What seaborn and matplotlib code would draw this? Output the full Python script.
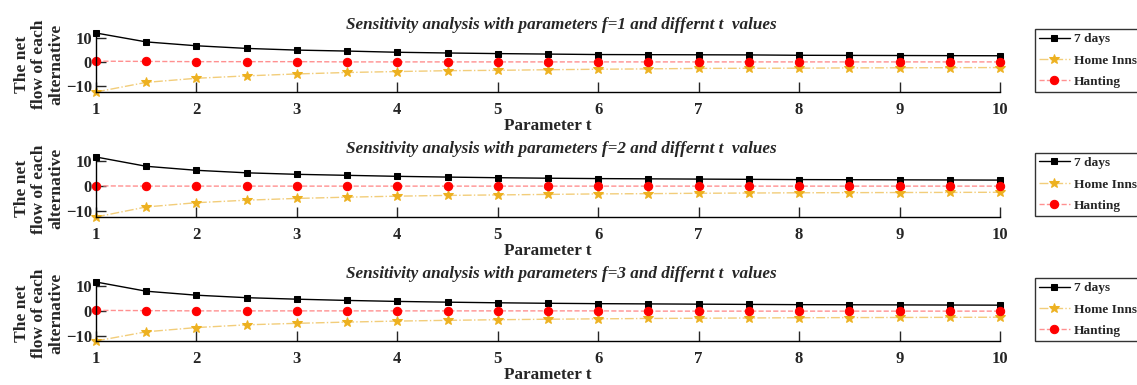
import numpy as np
import pandas as pd
import matplotlib
matplotlib.use("Agg")
import matplotlib.pyplot as plt
import seaborn as sns

# --- datos ---
t_values = [1, 1.5, 2, 2.5, 3, 3.5, 4, 4.5, 5, 5.5, 6, 6.5, 7, 7.5, 8, 8.5, 9, 9.5, 10]
f_values = [1, 2, 3]
series_names = ["7 days", "Home Inns", "Hanting"]

days7_f1 = [11.9, 8.2, 6.6, 5.5, 4.8, 4.4, 3.9, 3.6, 3.35, 3.15, 2.95, 2.9, 2.85, 2.8, 2.65, 2.6, 2.55, 2.5, 2.45]
home_f1 = [-12.6, -8.6, -6.9, -5.9, -5.1, -4.5, -4.1, -3.75, -3.6, -3.35, -3.15, -3.0, -2.8, -2.75, -2.7, -2.6, -2.55, -2.5, -2.45]
hanting_f1 = [0.2, 0.1, 0.0, 0.0, 0.0, -0.1, -0.1, -0.1, -0.1, -0.1, -0.1, -0.1, -0.1, -0.1, -0.1, -0.1, -0.1, -0.1, -0.1]

days7_f2 = [11.6, 7.9, 6.3, 5.3, 4.7, 4.3, 3.9, 3.6, 3.35, 3.15, 3.0, 2.9, 2.8, 2.7, 2.6, 2.55, 2.5, 2.45, 2.4]
home_f2 = [-12.3, -8.3, -6.6, -5.6, -4.9, -4.4, -4.0, -3.7, -3.5, -3.3, -3.1, -3.0, -2.85, -2.75, -2.65, -2.6, -2.55, -2.5, -2.45]
hanting_f2 = [0.1, 0.0, 0.0, 0.0, 0.0, 0.0, 0.0, 0.0, 0.0, 0.0, 0.0, 0.0, 0.0, 0.0, 0.0, 0.0, 0.0, 0.0, 0.0]

days7_f3 = [11.7, 8.0, 6.4, 5.4, 4.8, 4.3, 3.9, 3.6, 3.35, 3.15, 3.0, 2.9, 2.8, 2.7, 2.6, 2.55, 2.5, 2.45, 2.4]
home_f3 = [-12.0, -8.3, -6.6, -5.5, -4.9, -4.4, -4.0, -3.7, -3.45, -3.25, -3.1, -2.95, -2.85, -2.75, -2.65, -2.6, -2.55, -2.5, -2.45]
hanting_f3 = [0.3, 0.2, 0.1, 0.1, 0.1, 0.1, 0.1, 0.1, 0.1, 0.1, 0.1, 0.0, 0.0, 0.0, 0.0, 0.0, 0.0, 0.0, 0.0]

panel_data = {
    1: (days7_f1, home_f1, hanting_f1),
    2: (days7_f2, home_f2, hanting_f2),
    3: (days7_f3, home_f3, hanting_f3),
}

# --- estilos ---
styles = {
    "7 days": dict(color="black", linestyle="-", marker="s", mfc="black", mec="black", ms=5, lw=1.0),
    "Home Inns": dict(color="#F2CD7A", linestyle="-.", marker="*", mfc="#EDB120", mec="#EDB120", ms=7.5, lw=1.0),
    "Hanting": dict(color="#FF9090", linestyle="--", marker="o", mfc="#FF0000", mec="#FF0000", ms=6, lw=1.0),
}

sns.set_style("ticks")
plt.rcParams["font.family"] = ["Liberation Serif", "DejaVu Serif"]
plt.rcParams["font.weight"] = "bold"

fig = plt.figure(figsize=(11.37, 3.85), dpi=100)

W, H = 1137, 385
ax_left, ax_right = 96, 1000
panel_px = [(33, 92), (157, 217), (282, 341)]

for f, (top, bottom) in zip(f_values, panel_px):
    ax = fig.add_axes([ax_left / W, 1 - bottom / H, (ax_right - ax_left) / W, (bottom - top) / H])
    d7, hi, ha = panel_data[f]
    df = pd.DataFrame({"t": t_values, "7 days": d7, "Home Inns": hi, "Hanting": ha})
    for name in series_names:
        st = styles[name]
        sns.lineplot(data=df, x="t", y=name, ax=ax, label=name,
                     color=st["color"], linestyle=st["linestyle"], linewidth=st["lw"],
                     marker=st["marker"], markerfacecolor=st["mfc"], markeredgecolor=st["mec"],
                     markersize=st["ms"], clip_on=False)
    all_vals = np.concatenate([d7, hi, ha])
    ax.set_xlim(1, 10)
    ax.set_ylim(all_vals.min(), all_vals.max())
    ax.set_xticks(range(1, 11))
    ax.set_yticks([-10, 0, 10])
    ax.tick_params(direction="in", length=7, width=1, labelsize=12, pad=7)
    ax.tick_params(axis="y", pad=3)
    for lab in ax.get_xticklabels() + ax.get_yticklabels():
        lab.set_fontweight("bold")
    sns.despine(ax=ax)
    for sp in ["left", "bottom"]:
        ax.spines[sp].set_linewidth(1.0)
        ax.spines[sp].set_color("black")
    ax.set_xlabel("Parameter t", fontsize=12.3, fontweight="bold", labelpad=0)
    ax.set_ylabel("The net\nflow of each\nalternative", fontsize=12.6, fontweight="bold",
                  linespacing=1.08)
    ax.yaxis.set_label_coords(-0.035, 0.47)
    ax.set_title(f"Sensitivity analysis with parameters f={f} and differnt t  values",
                 fontsize=12.3, fontweight="bold", fontstyle="italic", pad=3, x=0.515)
    leg = ax.legend(loc="upper left", bbox_to_anchor=(1.0387, 1.07), borderaxespad=0,
                    fontsize=9.6, frameon=True, fancybox=False, handlelength=2.3,
                    labelspacing=0.68, borderpad=0.3, handletextpad=0.3)
    leg.get_frame().set_edgecolor("black")
    leg.get_frame().set_linewidth(1.0)
    for txt in leg.get_texts():
        txt.set_fontweight("bold")

fig.savefig("out.png", dpi=100)
